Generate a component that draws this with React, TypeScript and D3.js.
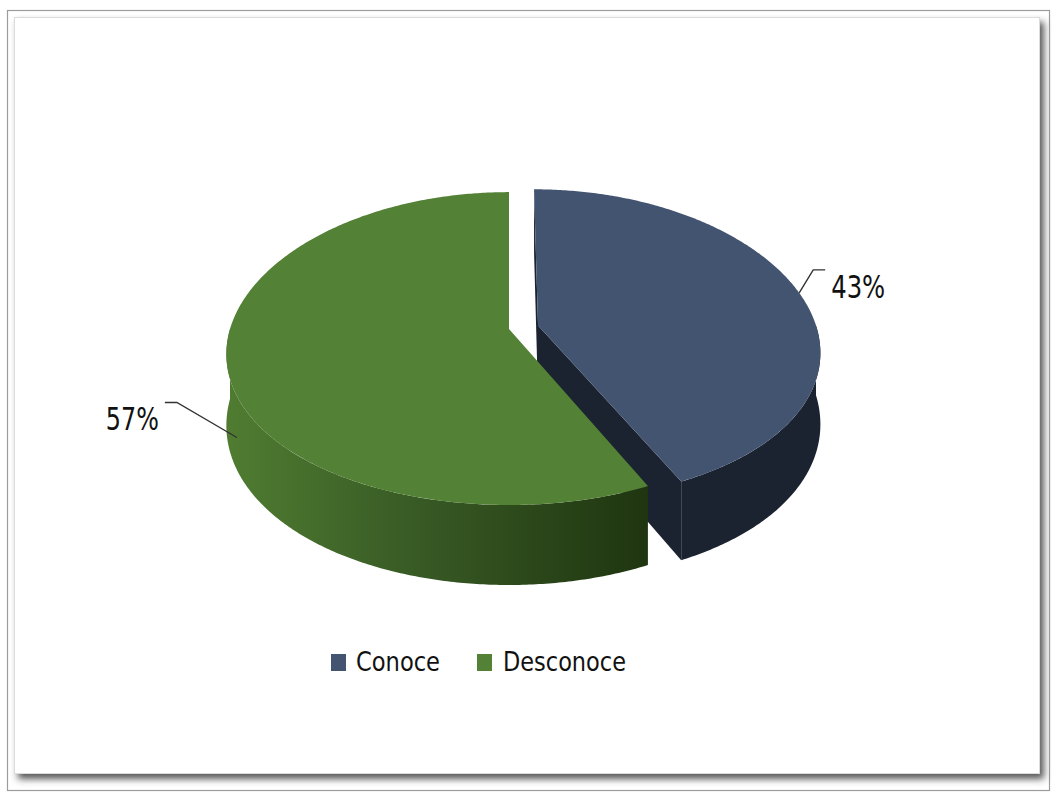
import React from "react";
import * as d3 from "d3";

const categories = ["Conoce", "Desconoce"];
const values = [43, 57];
const topColors = ["#435470", "#538135"];
const darkColors = ["#1b2230", "#223810"];
const explode = [0.107, 0];

const W = 1052;
const H = 794;

// pseudo-perspective projection of the 3D pie
const cx = 509, cy = 329, Sx = 279, Sy = 154, TH = 70, ax = 0.16, ay = 0.125;
function proj(gx: number, gz: number, d: number): [number, number] {
  const kx = 1 / (1 - ax * gz);
  const ky = 1 / (1 - ay * gz);
  return [cx + Sx * gx * kx, cy + (Sy * gz + TH * d) * ky];
}

const fontLabel = "'Liberation Sans Narrow', 'DejaVu Sans Condensed', 'Liberation Sans', sans-serif";

export default function App() {
  const pie = d3.pie<number>().sort(null).startAngle(0).endAngle(2 * Math.PI);
  const arcs = pie(values);
  const line = d3.line<[number, number]>();

  const slices = arcs.map((a, i) => {
    const mid = (a.startAngle + a.endAngle) / 2;
    const ox = explode[i] * Math.sin(mid);
    const oz = -explode[i] * Math.cos(mid);
    const P = (t: number, r: number, d: number) =>
      proj(ox + r * Math.sin(t), oz - r * Math.cos(t), d);
    const rim = (t0: number, t1: number, d: number) => {
      const n = Math.max(2, Math.ceil(Math.abs(t1 - t0) / 0.01));
      return d3.range(n + 1).map((k) => P(t0 + ((t1 - t0) * k) / n, 1, d));
    };
    const top = [P(0, 0, 0), ...rim(a.startAngle, a.endAngle, 0)];
    const s0 = Math.max(a.startAngle, Math.PI / 2);
    const s1 = Math.min(a.endAngle, (3 * Math.PI) / 2);
    const side = s1 > s0 ? [...rim(s0, s1, 0), ...rim(s0, s1, 1).reverse()] : null;
    const face = (t: number) => [P(0, 0, 0), P(t, 1, 0), P(t, 1, 1), P(0, 0, 1)] as [number, number][];
    return { a, i, mid, P, top, side, face };
  });

  const blue = slices[0];
  const green = slices[1];

  // label anchors
  const a43 = blue.P(blue.mid, 1, 0);
  const e43: [number, number] = [a43[0] + 14, a43[1] - 23];
  const f43: [number, number] = [e43[0] + 12, e43[1]];
  const a57raw = green.P(green.mid, 1, 1);
  const a57: [number, number] = [a57raw[0] + 10, a57raw[1] + 2];
  const e57: [number, number] = [a57[0] - 60, a57[1] - 35];
  const f57: [number, number] = [e57[0] - 12, e57[1]];

  const legendY = 662;
  const legendItems = [
    { x: 331, tx: 356, w: 84 },
    { x: 477, tx: 503, w: 123 },
  ];

  return (
    <svg
      width={W}
      height={H}
      style={{ position: "absolute", left: 0, top: 0, background: "#fff" }}
    >
      <defs>
        <filter id="sh" x="-5%" y="-5%" width="110%" height="110%">
          <feDropShadow dx="4" dy="5" stdDeviation="3.5" floodColor="#3a3a3a" floodOpacity="0.85" />
        </filter>
        <linearGradient id="gside" gradientUnits="userSpaceOnUse" x1={229} x2={650} y1={0} y2={0}>
          <stop offset="0" stopColor="#4f7c31" />
          <stop offset="0.4" stopColor="#3a5d26" />
          <stop offset="1" stopColor="#1f3510" />
        </linearGradient>
      </defs>
      <rect x={7.5} y={10.5} width={1042} height={780} fill="#fff" stroke="#9c9c9c" strokeWidth={1.2} />
      <rect x={14} y={17} width={1026} height={757} fill="#fff" filter="url(#sh)" />
      <rect x={14.5} y={17.5} width={1025} height={756} fill="none" stroke="#dcdcdc" strokeWidth={1} />

      {/* Conoce (exploded) */}
      <path d={line(blue.face(blue.a.startAngle)) + "Z"} fill={darkColors[0]} />
      {blue.side && <path d={line(blue.side as [number, number][]) + "Z"} fill={darkColors[0]} />}
      <path d={line(blue.face(blue.a.endAngle)) + "Z"} fill={darkColors[0]} />
      <path d={line(blue.top as [number, number][]) + "Z"} fill={topColors[0]} />

      {/* Desconoce */}
      {green.side && <path d={line(green.side as [number, number][]) + "Z"} fill="url(#gside)" />}
      <path d={line(green.top as [number, number][]) + "Z"} fill={topColors[1]} />

      {/* leader lines and labels */}
      <path d={line([a43, e43, f43]) as string} fill="none" stroke="#333" strokeWidth={1.4} />
      <text
        x={f43[0] + 6}
        y={e43[1] + 28}
        fontFamily={fontLabel}
        fontSize={32}
        fill="#111"
        textLength={54}
        lengthAdjust="spacingAndGlyphs"
      >
        {`${values[0]}%`}
      </text>
      <path d={line([a57, e57, f57]) as string} fill="none" stroke="#333" strokeWidth={1.4} />
      <text
        x={f57[0] - 59}
        y={e57[1] + 28}
        fontFamily={fontLabel}
        fontSize={32}
        fill="#111"
        textLength={53}
        lengthAdjust="spacingAndGlyphs"
      >
        {`${values[1]}%`}
      </text>

      {/* legend */}
      {categories.map((c, i) => (
        <g key={c}>
          <rect x={legendItems[i].x} y={legendY - 8} width={15} height={17} fill={topColors[i]} />
          <text
            x={legendItems[i].tx}
            y={legendY + 9}
            fontFamily={fontLabel}
            fontSize={27}
            fill="#111"
            textLength={legendItems[i].w}
            lengthAdjust="spacingAndGlyphs"
          >
            {c}
          </text>
        </g>
      ))}
    </svg>
  );
}
